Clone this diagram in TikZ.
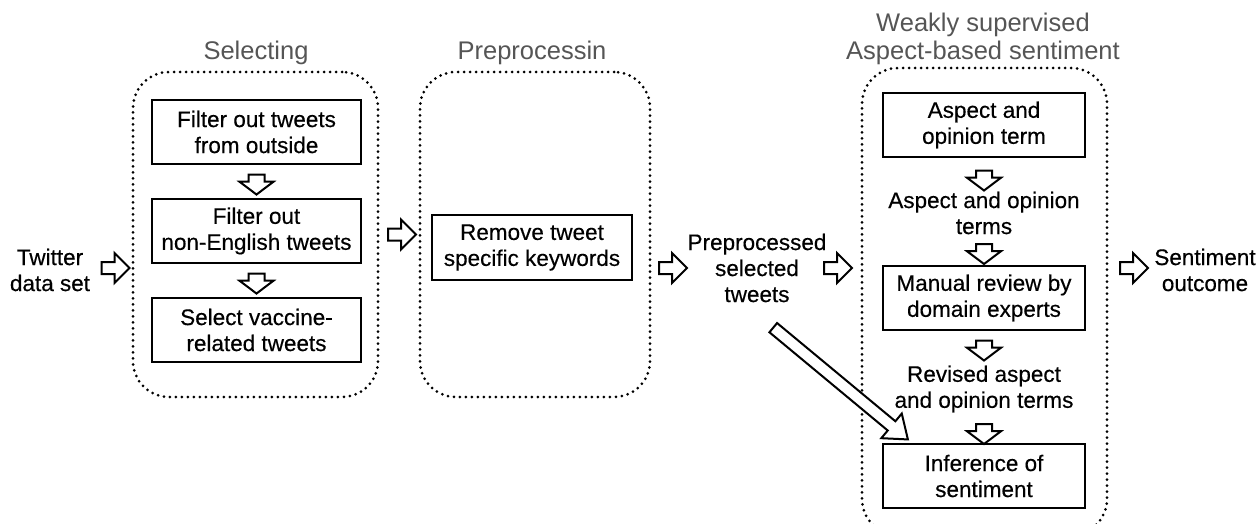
\documentclass[tikz,border=0pt]{standalone}
\usepackage{fontspec}
\setmainfont{Liberation Sans}
\newfontfamily\boxfont[FakeBold=0.35]{Liberation Sans}
\usetikzlibrary{shapes.arrows,calc}
\definecolor{titlegray}{HTML}{555555}
\begin{document}
\begin{tikzpicture}[x=1pt,y=-1pt,
  container/.style={draw, line width=3pt, dash pattern=on 0pt off 6pt, line cap=round, rounded corners=36pt, inner sep=0pt},
  stepbox/.style={draw, line width=2.6pt, inner sep=0pt, align=center, font=\boxfont\fontsize{22.5}{26}\selectfont},
  plain/.style={align=center, font=\boxfont\fontsize{22.5}{26}\selectfont},
  title/.style={align=center, text=titlegray, font=\fontsize{25.5}{28}\selectfont},
  harrow/.style={single arrow, draw, line width=2pt, fill=white, inner xsep=0pt, inner ysep=5pt, minimum height=28pt, single arrow head extend=9pt, single arrow tip angle=90},
  varrow/.style={single arrow, draw, line width=2pt, fill=white, inner xsep=0pt, inner ysep=7pt, minimum height=20pt, single arrow head extend=9pt, single arrow tip angle=106, rotate=-90},
  darrow/.style={single arrow, draw, line width=2pt, fill=white, inner xsep=0pt, inner ysep=5pt, minimum height=175pt, single arrow head extend=10pt, single arrow tip angle=74, rotate=-39.7}
]
\useasboundingbox (0,0) rectangle (1257,524);

% containers
\node[container, minimum width=245pt, minimum height=325pt] (sel) at (255.5,234.5) {};
\node[container, minimum width=230pt, minimum height=325pt] (pre) at (535,234.5) {};
\node[container, minimum width=245pt, minimum height=467pt] (ws) at (984.5,301.5) {};

% titles
\node[title] (tsel) at (256,53) {Selecting};
\node[title] (tpre) at (532,53) {Preprocessin};
\node[title] (tws) at (983,39) {Weakly supervised\\Aspect-based sentiment};

% selecting boxes
\node[stepbox, minimum width=209pt, minimum height=64pt] (s1) at (256.5,132) {Filter out tweets\\from outside};
\node[stepbox, minimum width=209pt, minimum height=64pt] (s2) at (256.5,231) {Filter out\\non-English tweets};
\node[stepbox, minimum width=209pt, minimum height=64pt] (s3) at (256.5,330) {Select vaccine-\\related tweets};

% preprocessing box
\node[stepbox, minimum width=200pt, minimum height=65pt] (p1) at (532,247.5) {Remove tweet\\specific keywords};

% weakly supervised boxes and texts
\node[stepbox, minimum width=202pt, minimum height=64pt] (w1) at (984,125) {Aspect and\\opinion term};
\node[plain] (w2) at (984,213) {Aspect and opinion\\terms};
\node[stepbox, minimum width=202pt, minimum height=64pt] (w3) at (984,298) {Manual review by\\domain experts};
\node[plain] (w4) at (984,389) {Revised aspect\\and opinion terms};
\node[stepbox, minimum width=202pt, minimum height=64pt] (w5) at (984,476) {Inference of\\sentiment};

% side texts
\node[plain] (tw) at (50,270) {Twitter\\data set};
\node[plain] (pst) at (757,268) {Preprocessed\\selected\\tweets};
\node[plain] (so) at (1205,270) {Sentiment\\outcome};

% horizontal block arrows
\node[harrow] (a1) at (112.5,268) {};
\node[harrow] (a2) at ($(sel.east)!0.5!(pre.west)$) {};
\node[harrow] (a3) at (670,268) {};
\node[harrow] (a4) at (835,268) {};
\node[harrow] (a5) at (1131,268) {};

% vertical block arrows
\node[varrow] (d1) at ($(s1.south)!0.5!(s2.north)$) {};
\node[varrow] (d2) at ($(s2.south)!0.5!(s3.north)$) {};
\node[varrow] (d3) at (984,177.5) {};
\node[varrow] (d4) at (984,251) {};
\node[varrow] (d5) at (984,347.5) {};
\node[varrow] (d6) at (984,431) {};

% diagonal arrow
\node[darrow] (dg) at (837.5,381) {};
\end{tikzpicture}
\end{document}
